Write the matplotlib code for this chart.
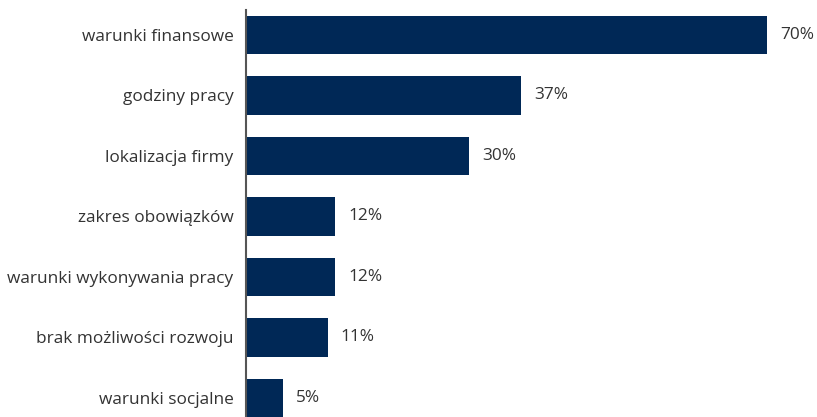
import matplotlib
matplotlib.use("Agg")
import matplotlib.pyplot as plt

categories = [
    "warunki finansowe",
    "godziny pracy",
    "lokalizacja firmy",
    "zakres obowiązków",
    "warunki wykonywania pracy",
    "brak możliwości rozwoju",
    "warunki socjalne",
]
values = [70, 37, 30, 12, 12, 11, 5]

W, H = 817, 417
fig = plt.figure(figsize=(W / 100, H / 100), dpi=100)
ax_left, ax_top, ax_bottom = 246, 10, 417
ax = fig.add_axes([ax_left / W, 0, (W - ax_left) / W, (ax_bottom - ax_top) / H])

fonts = ["Open Sans", "DejaVu Sans"]
bar_color = "#002856"
text_color = "#333333"

pos = list(range(len(categories)))
ax.barh(pos, values, height=0.63, color=bar_color)

# pixel scale: 70% spans 521 px
px_per_unit = 521 / 70
ax.set_xlim(0, (W - ax_left) / px_per_unit)
ax.set_ylim(6.314, -0.413)

for p, v in zip(pos, values):
    ax.text(v + 13 / px_per_unit, p, f"{v}%", va="center", ha="left",
            fontsize=12.4, color=text_color, family=fonts)

ax.set_yticks(pos)
ax.set_yticklabels(categories, fontsize=12.4, color=text_color, family=fonts)
ax.tick_params(axis="y", length=0, pad=9)
ax.set_xticks([])
for s in ["top", "right", "bottom"]:
    ax.spines[s].set_visible(False)
ax.spines["left"].set_color("#555555")
ax.spines["left"].set_linewidth(1.5)

fig.savefig("out.png", dpi=100)
